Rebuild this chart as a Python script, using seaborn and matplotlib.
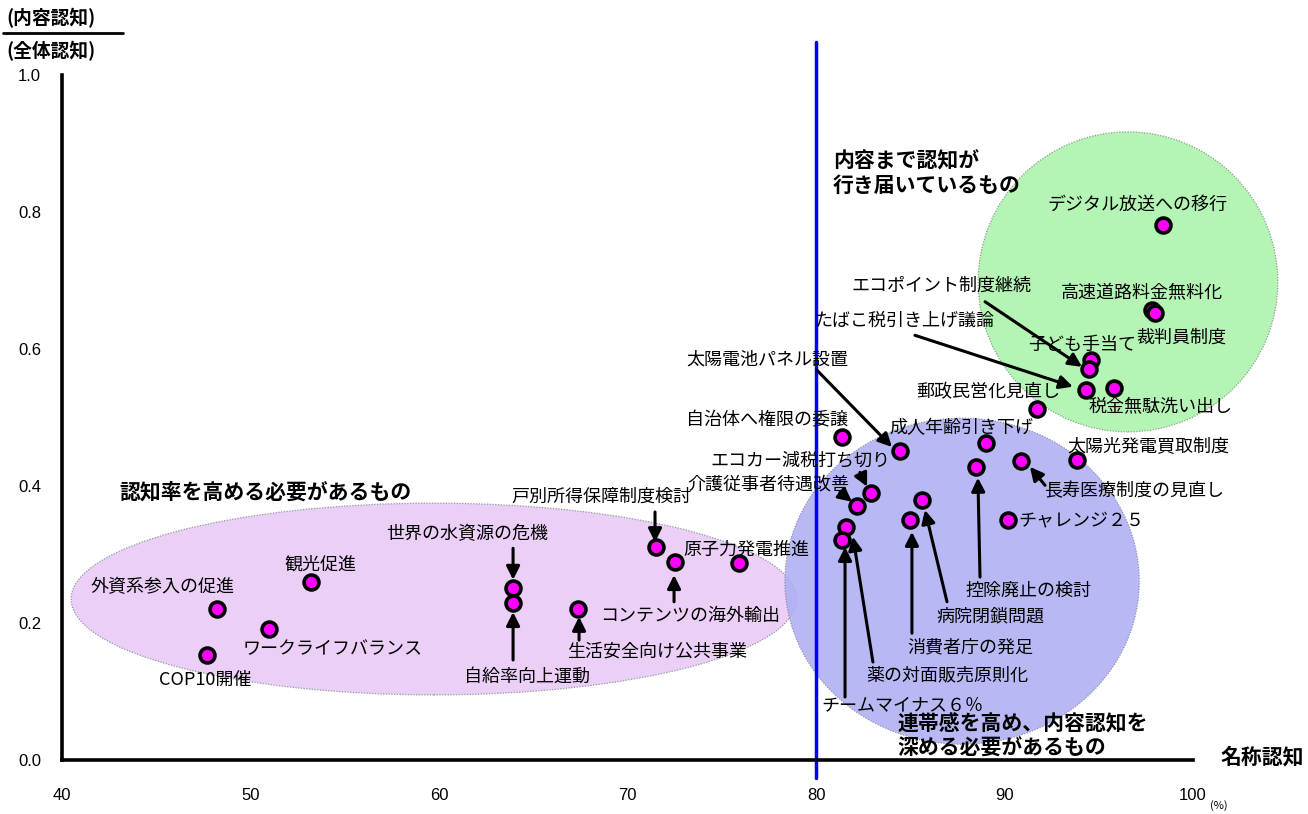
import matplotlib
matplotlib.use("Agg")
import matplotlib.pyplot as plt
from matplotlib.patches import Ellipse
import pandas as pd
import seaborn as sns

# ---- data: name awareness (%) vs. content awareness ratio ----
topics = [
    "デジタル放送への移行", "高速道路料金無料化", "裁判員制度", "子ども手当て",
    "エコポイント制度継続", "たばこ税引き上げ議論", "税金無駄洗い出し", "郵政民営化見直し",
    "成人年齢引き下げ", "太陽光発電買取制度", "長寿医療制度の見直し", "控除廃止の検討",
    "チャレンジ２５", "太陽電池パネル設置", "自治体へ権限の委譲", "エコカー減税打ち切り",
    "介護従事者待遇改善", "薬の対面販売原則化", "チームマイナス６％", "消費者庁の発足",
    "病院閉鎖問題", "戸別所得保障制度検討", "コンテンツの海外輸出", "原子力発電推進",
    "世界の水資源の危機", "自給率向上運動", "生活安全向け公共事業", "観光促進",
    "外資系参入の促進", "ワークライフバランス", "COP10開催",
]
name_awareness = [
    98.4, 97.8, 98.0, 94.6,
    94.5, 94.3, 95.8, 91.7,
    89.0, 93.85, 90.9, 88.5,
    90.2, 84.45, 81.4, 82.9,
    82.2, 81.6, 81.4, 85.0,
    85.6, 71.5, 72.5, 75.9,
    63.9, 63.9, 67.4, 53.2,
    48.2, 51.0, 47.7,
]
content_ratio = [
    0.781, 0.657, 0.653, 0.584,
    0.571, 0.540, 0.543, 0.512,
    0.463, 0.438, 0.436, 0.428,
    0.350, 0.451, 0.472, 0.390,
    0.371, 0.340, 0.321, 0.350,
    0.380, 0.311, 0.289, 0.288,
    0.251, 0.229, 0.220, 0.260,
    0.220, 0.191, 0.153,
]

x_ticks = [40, 50, 60, 70, 80, 90, 100]
y_ticks = [0.0, 0.2, 0.4, 0.6, 0.8, 1.0]

# label placement: text position, alignment, optional arrow (tail, head)
label_layout = {
    "デジタル放送への移行": (97.08, 0.810, "center", None),
    "高速道路料金無料化": (97.29, 0.682, "center", None),
    "裁判員制度": (99.36, 0.616, "center", None),
    "子ども手当て": (94.11, 0.606, "center", None),
    "エコポイント制度継続": (86.68, 0.692, "center", ((88.97, 0.669), (94.11, 0.574))),
    "たばこ税引き上げ議論": (84.67, 0.641, "center", ((85.25, 0.620), (93.63, 0.545))),
    "税金無駄洗い出し": (98.30, 0.517, "center", None),
    "郵政民営化見直し": (89.12, 0.537, "center", None),
    "成人年齢引き下げ": (87.69, 0.485, "center", None),
    "太陽光発電買取制度": (97.61, 0.457, "center", None),
    "長寿医療制度の見直し": (96.87, 0.393, "center", ((92.15, 0.401), (91.35, 0.428))),
    "控除廃止の検討": (91.25, 0.247, "center", ((88.70, 0.267), (88.59, 0.412))),
    "チャレンジ２５": (90.72, 0.350, "left", None),
    "太陽電池パネル設置": (77.40, 0.585, "center", ((80.05, 0.569), (84.03, 0.457))),
    "自治体へ権限の委譲": (77.40, 0.496, "center", None),
    "エコカー減税打ち切り": (79.15, 0.438, "center", ((82.33, 0.420), (82.71, 0.399))),
    "介護従事者待遇改善": (77.45, 0.403, "center", ((81.27, 0.391), (81.91, 0.377))),
    "薬の対面販売原則化": (86.95, 0.124, "center", ((83.02, 0.143), (81.96, 0.326))),
    "チームマイナス６％": (84.56, 0.080, "center", ((81.54, 0.092), (81.54, 0.311))),
    "消費者庁の発足": (88.17, 0.165, "center", ((85.09, 0.185), (85.09, 0.333))),
    "病院閉鎖問題": (89.23, 0.209, "center", ((86.95, 0.231), (85.78, 0.365))),
    "戸別所得保障制度検討": (68.59, 0.384, "center", ((71.46, 0.362), (71.46, 0.318))),
    "コンテンツの海外輸出": (73.32, 0.210, "center", ((72.47, 0.231), (72.47, 0.270))),
    "原子力発電推進": (76.29, 0.307, "center", None),
    "世界の水資源の危機": (61.49, 0.330, "center", ((63.93, 0.309), (63.93, 0.263))),
    "自給率向上運動": (64.67, 0.121, "center", ((63.93, 0.146), (63.93, 0.216))),
    "生活安全向け公共事業": (71.56, 0.158, "center", ((67.43, 0.175), (67.43, 0.209))),
    "観光促進": (53.69, 0.285, "center", None),
    "外資系参入の促進": (45.31, 0.253, "center", None),
    "ワークライフバランス": (54.38, 0.162, "center", None),
    "COP10開催": (47.59, 0.117, "center", None),
}

df = pd.DataFrame({"topic": topics, "name": name_awareness, "content": content_ratio})

sns.set_theme(style="white")
plt.rcParams["font.family"] = ["Noto Sans CJK JP", "DejaVu Sans"]
plt.rcParams["text.color"] = "black"

fig = plt.figure(figsize=(13.08, 8.14), dpi=100)
ax = fig.add_axes([62 / 1308, 54 / 814, 1131 / 1308, 685 / 814])

# grouping regions
ax.add_patch(Ellipse((59.73, 0.235), 38.5, 0.280, facecolor="#ebcff7",
                     edgecolor="#8a9aa0", linestyle=(0, (1, 1.2)), lw=0.9,
                     zorder=1, clip_on=False))
ax.add_patch(Ellipse((96.55, 0.698), 15.9, 0.438, facecolor="#b4f4b4",
                     edgecolor="#8aa08a", linestyle=(0, (1, 1.2)), lw=0.9,
                     zorder=1, clip_on=False))
ax.add_patch(Ellipse((87.75, 0.261), 18.8, 0.476, facecolor="#aeaef4", alpha=0.88,
                     edgecolor="#8a8aa0", linestyle=(0, (1, 1.2)), lw=0.9,
                     zorder=1.5, clip_on=False))

# 80% name-awareness divider
ax.axvline(80, ymin=-0.026, ymax=1.048, color="#0000ff", lw=2.5, clip_on=False, zorder=2)

sns.scatterplot(data=df, x="name", y="content", ax=ax, s=115, color="#ff00ff",
                edgecolor="black", linewidth=2.6, zorder=5, legend=False)

for topic in topics:
    tx, ty, ha, arrow = label_layout[topic]
    ax.text(tx, ty, topic, fontsize=13, ha=ha, va="center", color="black", zorder=6)
    if arrow is not None:
        tail, head = arrow
        ax.annotate("", xy=head, xytext=tail,
                    arrowprops=dict(arrowstyle="-|>", color="black", lw=2.2,
                                    mutation_scale=20, shrinkA=0, shrinkB=0),
                    zorder=6)

# region captions
ax.text(80.9, 0.857, "内容まで認知が\n行き届いているもの",
        fontsize=15, fontweight="bold", ha="left", va="center", linespacing=1.2, zorder=6)
ax.text(50.77, 0.391, "認知率を高める必要があるもの",
        fontsize=15, fontweight="bold", ha="center", va="center", zorder=6)
ax.text(84.3, 0.035, "連帯感を高め、内容認知を\n深める必要があるもの",
        fontsize=15, fontweight="bold", ha="left", va="center", linespacing=1.2, zorder=6)

# axes styling
ax.set_xlim(40, 100)
ax.set_ylim(0, 1.0)
ax.set_xticks(x_ticks)
ax.set_yticks(y_ticks)
ax.set_xticklabels([str(v) for v in x_ticks], family="Liberation Sans", fontsize=12)
ax.set_yticklabels([f"{v:.1f}" for v in y_ticks], family="Liberation Sans", fontsize=12)
ax.tick_params(axis="x", direction="in", length=5, width=2.5, pad=20, colors="black")
ax.tick_params(axis="y", direction="in", length=5, width=2.5, pad=15, colors="black")
for side in ("top", "right"):
    ax.spines[side].set_visible(False)
for side in ("left", "bottom"):
    ax.spines[side].set_linewidth(2.6)
    ax.spines[side].set_color("black")
ax.set_xlabel("")
ax.set_ylabel("")
ax.grid(False)

# axis titles
fig.text(1262 / 1308, 1 - 757 / 814, "名称認知", fontsize=15, fontweight="bold",
         ha="center", va="center")
fig.text(1219 / 1308, 1 - 806 / 814, "(%)", fontsize=8, ha="center", va="center")
fig.text(6 / 1308, 1 - 18 / 814, "(内容認知)", fontsize=13.5, fontweight="bold",
         ha="left", va="center")
fig.add_artist(plt.Line2D([3 / 1308, 123 / 1308], [1 - 33 / 814, 1 - 33 / 814],
                          color="black", lw=2, transform=fig.transFigure))
fig.text(6 / 1308, 1 - 51 / 814, "(全体認知)", fontsize=13.5, fontweight="bold",
         ha="left", va="center")

fig.savefig("out.png", dpi=100, facecolor="white")
